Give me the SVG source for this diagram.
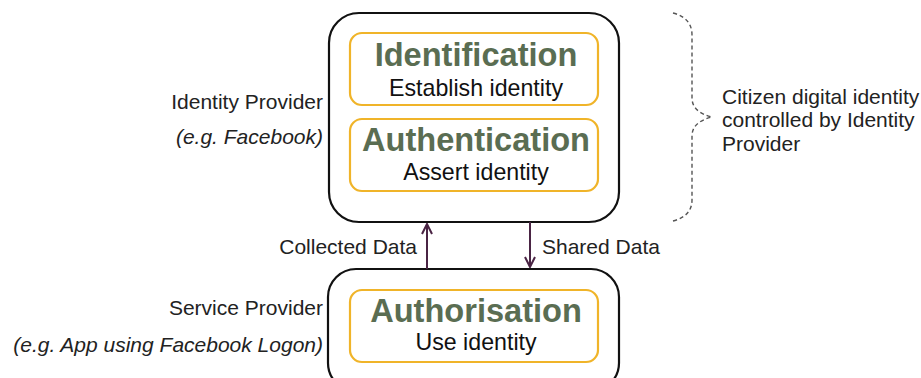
<svg xmlns="http://www.w3.org/2000/svg" width="921" height="378" viewBox="0 0 921 378">
<style>
.outer{fill:#fff;stroke:#111;stroke-width:2.2}
.inner{fill:#fff;stroke:#f0b429;stroke-width:2.2}
.head{font-family:"Liberation Sans",Arial,sans-serif;font-weight:bold;font-size:32.6px;fill:#5a6d52;text-anchor:middle}
.sub{font-family:"Liberation Sans",Arial,sans-serif;font-size:23.2px;fill:#111;text-anchor:middle}
.lbl{font-family:"Liberation Sans",Arial,sans-serif;font-size:21px;fill:#222}
.it{font-style:italic}
.conn{stroke:#4a2444;stroke-width:2;fill:none}
.brace{stroke:#555;stroke-width:1.4;fill:none;stroke-dasharray:4 3}
</style>
<defs>
<marker id="ah" viewBox="0 0 12 12" refX="11" refY="6" markerWidth="12" markerHeight="12" markerUnits="userSpaceOnUse" orient="auto">
<path d="M1,1 L11,6 L1,11" fill="none" stroke="#4a2444" stroke-width="2"/>
</marker>
</defs>
<g id="identity-provider">
<rect class="outer" x="329" y="13" width="290" height="209" rx="30"/>
<text class="lbl" x="323" y="109" text-anchor="end">Identity Provider</text>
<text class="lbl it" x="323" y="144" text-anchor="end">(e.g. Facebook)</text>
</g>
<g id="identification">
<rect class="inner" x="350" y="33" width="248" height="72" rx="12"/>
<text class="head" x="476" y="66">Identification</text>
<text class="sub" x="476" y="96">Establish identity</text>
</g>
<g id="authentication">
<rect class="inner" x="350" y="119" width="248" height="72" rx="12"/>
<text class="head" x="476" y="151">Authentication</text>
<text class="sub" x="476" y="180">Assert identity</text>
</g>
<g id="service-provider">
<rect class="outer" x="328" y="269" width="291" height="122" rx="28"/>
<text class="lbl" x="323" y="315" text-anchor="end">Service Provider</text>
<text class="lbl it" x="323" y="352" text-anchor="end">(e.g. App using Facebook Logon)</text>
</g>
<g id="authorisation">
<rect class="inner" x="350" y="290" width="248" height="72" rx="12"/>
<text class="head" x="476" y="322">Authorisation</text>
<text class="sub" x="476" y="350">Use identity</text>
</g>
<g id="connectors">
<line class="conn" x1="427" y1="269" x2="427" y2="224" marker-end="url(#ah)"/>
<line class="conn" x1="530" y1="222" x2="530" y2="267" marker-end="url(#ah)"/>
<text class="lbl" x="417" y="254" text-anchor="end">Collected Data</text>
<text class="lbl" x="542" y="254">Shared Data</text>
</g>
<g id="citizen-brace">
<path class="brace" d="M673,13 Q692,18 692,35 L692,98 Q692,112 712,117 Q692,122 692,136 L692,200 Q692,216 673,221"/>
<text class="lbl" x="722" y="104">Citizen digital identity</text>
<text class="lbl" x="722" y="127">controlled by Identity</text>
<text class="lbl" x="722" y="151">Provider</text>
</g>
</svg>
